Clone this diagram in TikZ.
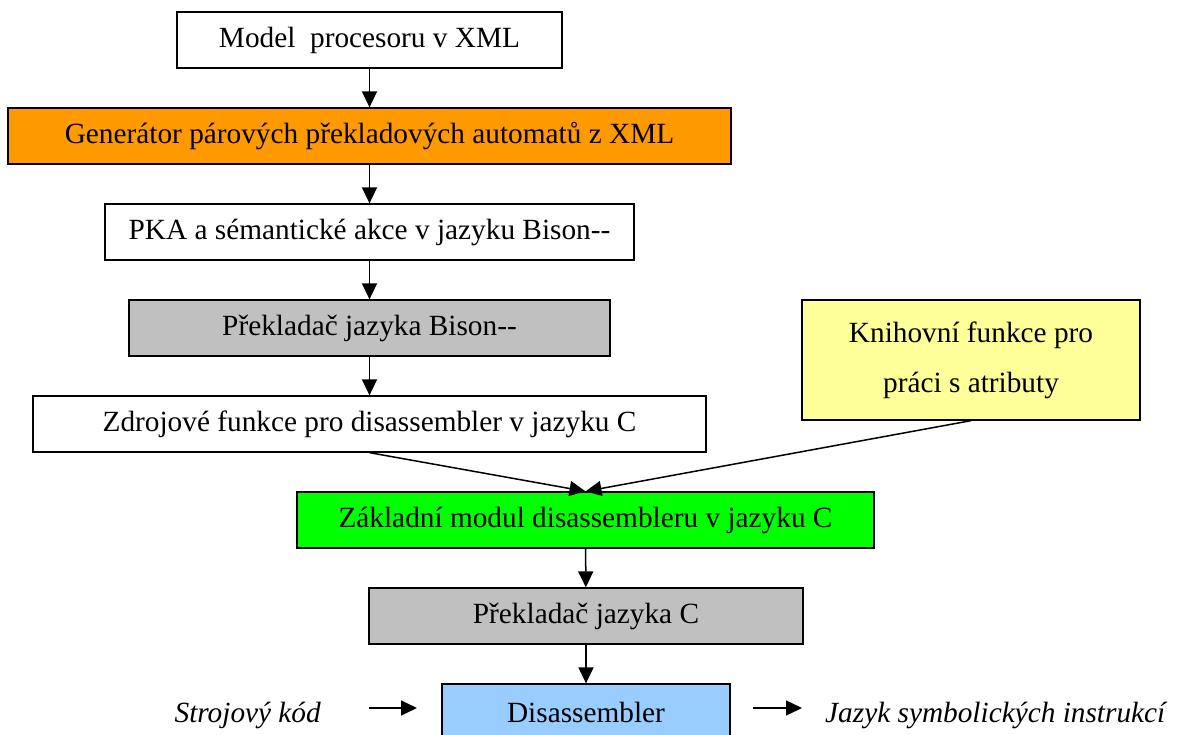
\documentclass[tikz,border=0pt]{standalone}
\usepackage{fontspec}
\setmainfont{Liberation Serif}
\usetikzlibrary{arrows.meta}

\definecolor{boxorange}{HTML}{FF9900}
\definecolor{boxgray}{HTML}{C0C0C0}
\definecolor{boxyellow}{HTML}{FFFF99}
\definecolor{boxgreen}{HTML}{00FF00}
\definecolor{boxblue}{HTML}{99CCFF}

\tikzset{
  stage/.style={draw=black, line width=1.3pt, rectangle, inner sep=0pt,
    minimum height=56pt, font=\fontsize{29.3}{50}\selectfont, align=center},
  flow/.style={line width=1.5pt, -{Triangle[length=16pt,width=15pt]}},
  label/.style={font=\fontsize{29.3}{34}\selectfont\itshape, inner sep=0pt}
}

\begin{document}
\begin{tikzpicture}[x=1pt,y=-1pt]
\useasboundingbox[fill=white] (0,0) rectangle (1178,734);
\begin{scope}
\clip (0,0) rectangle (1178,734);

% processing chain
\node[stage, minimum width=385pt] (model) at (369.5,40) {Model\ \ procesoru v XML};
\node[stage, fill=boxorange, minimum width=723pt] (gen) at (369.5,136) {Generátor párových překladových automatů z XML};
\node[stage, minimum width=529pt] (pka) at (369.5,232) {PKA a sémantické akce v jazyku Bison-{}-};
\node[stage, fill=boxgray, minimum width=481pt] (bison) at (369.5,328) {Překladač jazyka Bison-{}-};
\node[stage, minimum width=673pt] (zdroj) at (369.5,424) {Zdrojové funkce pro disassembler v jazyku C};
\node[stage, fill=boxyellow, minimum width=338pt, minimum height=120pt] (lib) at (971,360) {\raisebox{-3pt}{\parbox{330pt}{\centering Knihovní funkce pro\\práci s atributy}}};
\node[stage, fill=boxgreen, minimum width=577pt] (core) at (585.5,520) {Základní modul disassembleru v jazyku C};
\node[stage, fill=boxgray, minimum width=434pt] (cc) at (586,616) {Překladač jazyka C};
\node[stage, fill=boxblue, minimum width=288pt] (dis) at (586,712) {Disassembler};

% input and output
\node[label, anchor=base east] (in) at (321,722) {Strojový kód};
\node[label, anchor=base west] (out) at (825,722) {Jazyk symbolických instrukcí};
\coordinate (inA) at (369,708);
\coordinate (inB) at (417,708);
\coordinate (outA) at (753,708);
\coordinate (outB) at (802,708);

% connectors
\draw[flow] (model) -- (gen);
\draw[flow] (gen) -- (pka);
\draw[flow] (pka) -- (bison);
\draw[flow] (bison) -- (zdroj);
\draw[flow] (zdroj.south) -- (core.north);
\draw[flow] (lib.south) -- (core.north);
\draw[flow] (core) -- (cc);
\draw[flow] (cc) -- (dis);
\draw[flow] (inA) -- (inB);
\draw[flow] (outA) -- (outB);
\end{scope}
\end{tikzpicture}
\end{document}
